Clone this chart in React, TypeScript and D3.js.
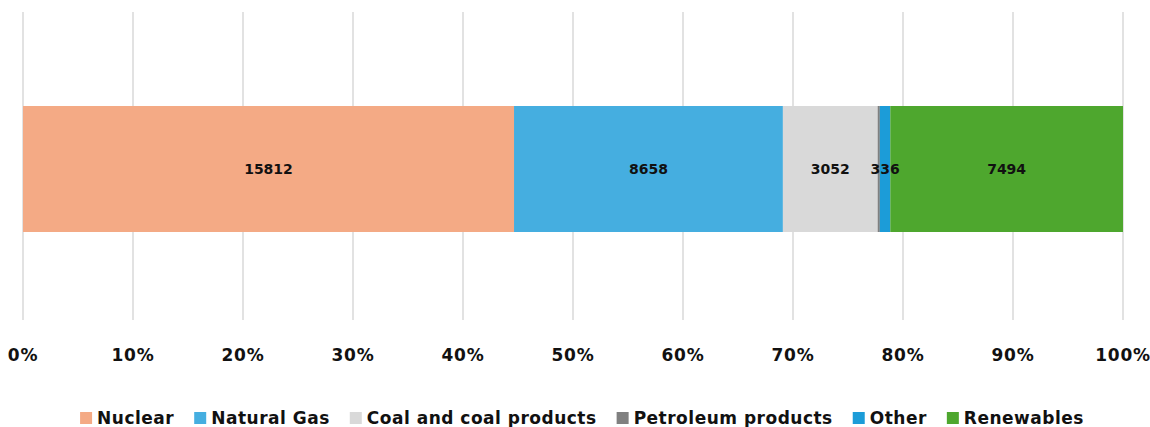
import React, { useEffect, useRef } from "react";
import * as d3 from "d3";

const seriesNames = ["Nuclear", "Natural Gas", "Coal and coal products", "Petroleum products", "Other", "Renewables"];
const seriesValues = [15812, 8658, 3052, 70, 336, 7494];
const seriesColors = ["#F4AA85", "#45AEE0", "#D9D9D9", "#808080", "#1C9CD8", "#4EA72E"];
const tickValues = [0, 0.1, 0.2, 0.3, 0.4, 0.5, 0.6, 0.7, 0.8, 0.9, 1];

const W = 1150;
const H = 427;
const FONT = "'DejaVu Sans', sans-serif";

export default function App() {
  const ref = useRef<SVGSVGElement>(null);

  useEffect(() => {
    const svg = d3.select(ref.current);
    svg.selectAll("*").remove();

    const x = d3.scaleLinear().domain([0, 1]).range([23, 1123]);
    const y = d3.scaleBand().domain(["All"]).range([43, 295]).paddingInner(0).paddingOuter(0.5);

    const total = d3.sum(seriesValues);
    const cum = d3.cumsum(seriesValues);
    const segs = seriesValues.map((v, i) => ({
      name: seriesNames[i],
      value: v,
      color: seriesColors[i],
      x0: (cum[i] - v) / total,
      x1: cum[i] / total,
    }));

    // gridlines
    svg
      .append("g")
      .selectAll("line")
      .data(tickValues)
      .join("line")
      .attr("x1", (d) => x(d))
      .attr("x2", (d) => x(d))
      .attr("y1", 12)
      .attr("y2", 320)
      .attr("stroke", "#d9d9d9")
      .attr("stroke-width", 1.5);

    // bars
    const by = y("All")!;
    const bh = y.bandwidth();
    svg
      .append("g")
      .selectAll("rect")
      .data(segs)
      .join("rect")
      .attr("x", (d) => x(d.x0))
      .attr("width", (d) => x(d.x1) - x(d.x0))
      .attr("y", by)
      .attr("height", bh)
      .attr("fill", (d) => d.color);

    // labels
    svg
      .append("g")
      .selectAll("text")
      .data(segs.filter((d) => x(d.x1) - x(d.x0) > 5))
      .join("text")
      .attr("x", (d) => (x(d.x0) + x(d.x1)) / 2)
      .attr("y", by + bh / 2)
      .attr("dy", "0.35em")
      .attr("text-anchor", "middle")
      .attr("font-family", FONT)
      .attr("font-weight", 700)
      .attr("font-size", 14)
      .attr("fill", "#111")
      .text((d) => String(d.value));

    // tick labels
    svg
      .append("g")
      .selectAll("text")
      .data(tickValues)
      .join("text")
      .attr("x", (d) => x(d))
      .attr("y", 355)
      .attr("dy", "0.35em")
      .attr("text-anchor", "middle")
      .attr("font-family", FONT)
      .attr("font-weight", 700)
      .attr("font-size", 17)
      .attr("letter-spacing", 0.8)
      .attr("fill", "#111")
      .text((d) => d3.format(".0%")(d));

    // legend
    const lg = svg.append("g");
    const items = lg.selectAll("g").data(segs).join("g");
    items
      .append("rect")
      .attr("width", 12)
      .attr("height", 12)
      .attr("y", -6)
      .attr("fill", (d) => d.color);
    items
      .append("text")
      .attr("x", 17)
      .attr("dy", "0.35em")
      .attr("font-family", FONT)
      .attr("font-weight", 700)
      .attr("font-size", 17)
      .attr("letter-spacing", 0.5)
      .attr("fill", "#111")
      .text((d) => d.name);
    const widths: number[] = [];
    items.each(function () {
      const t = d3.select(this).select("text").node() as SVGTextElement;
      widths.push(17 + t.getComputedTextLength());
    });
    const gap = 20;
    const totalW = d3.sum(widths) + gap * (widths.length - 1);
    let cx = 582 - totalW / 2;
    items.each(function (_, i) {
      d3.select(this).attr("transform", `translate(${cx},418)`);
      cx += widths[i] + gap;
    });
  }, []);

  return (
    <svg
      ref={ref}
      width={W}
      height={H}
      style={{ position: "absolute", left: 0, top: 0, background: "#fff" }}
    />
  );
}
